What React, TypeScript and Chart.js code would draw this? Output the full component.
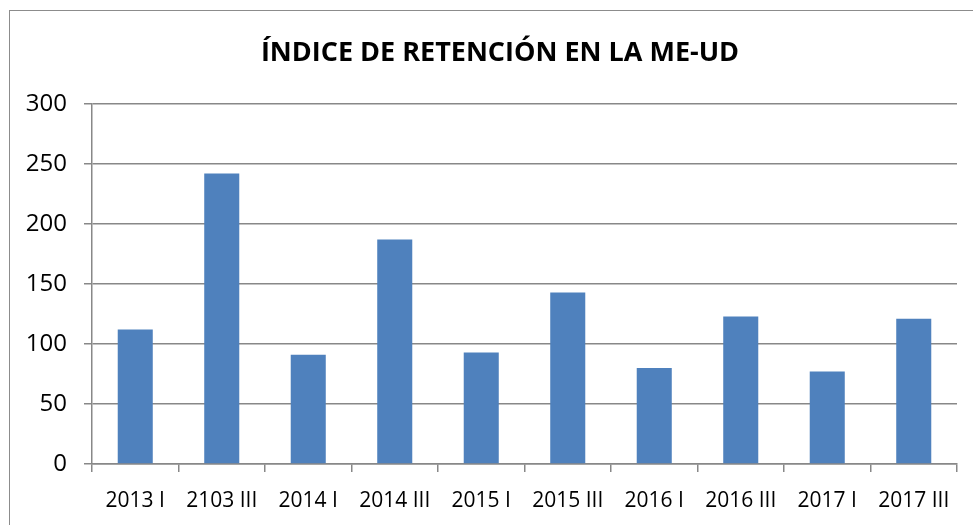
import React, { useEffect, useRef } from "react";
import { Chart, registerables } from "chart.js";

Chart.register(...registerables);

const TITLE = "ÍNDICE DE RETENCIÓN EN LA ME-UD";
const categories = [
  "2013 I",
  "2103 III",
  "2014 I",
  "2014 III",
  "2015 I",
  "2015 III",
  "2016 I",
  "2016 III",
  "2017 I",
  "2017 III",
];
const values = [112, 242, 91, 187, 93, 143, 80, 123, 77, 121];
const yMin = 0;
const yMax = 300;
const yStep = 50;

const FONT = "'Open Sans', 'Noto Sans', sans-serif";

const titlePlugin = {
  id: "customTitle",
  afterDraw(chart: any) {
    const ctx = chart.ctx;
    ctx.save();
    ctx.font = `bold 27px ${FONT}`;
    ctx.fillStyle = "#000";
    ctx.textAlign = "center";
    ctx.textBaseline = "alphabetic";
    ctx.fillText(TITLE, 500, 61);
    ctx.restore();
  },
};

export default function App() {
  const ref = useRef<HTMLCanvasElement | null>(null);

  useEffect(() => {
    if (!ref.current) return;
    const chart = new Chart(ref.current, {
      type: "bar",
      data: {
        labels: categories,
        datasets: [
          {
            data: values,
            backgroundColor: "#4F81BD",
            borderWidth: 0,
            barPercentage: 0.405,
            categoryPercentage: 1,
          },
        ],
      },
      plugins: [titlePlugin],
      options: {
        animation: false,
        responsive: false,
        maintainAspectRatio: false,
        layout: { padding: { top: 104, right: 16, bottom: 0, left: 0 } },
        plugins: {
          legend: { display: false },
          tooltip: { enabled: false },
          title: { display: false },
        },
        scales: {
          x: {
            offset: true,
            afterFit: (scale: any) => {
              scale.height = 61;
            },
            grid: {
              offset: true,
              drawOnChartArea: false,
              drawTicks: true,
              tickLength: 8,
              color: "#888",
              lineWidth: 1.5,
            },
            border: { display: true, color: "#888", width: 1.5 },
            ticks: {
              color: "#000",
              font: { family: FONT, size: 21 },
              padding: 16,
              maxRotation: 0,
              autoSkip: false,
            },
          },
          y: {
            min: yMin,
            max: yMax,
            afterFit: (scale: any) => {
              scale.width = 92;
            },
            grid: {
              drawTicks: true,
              tickLength: 8,
              color: "#888",
              lineWidth: 1.5,
            },
            border: { display: true, color: "#888", width: 1.5 },
            ticks: {
              stepSize: yStep,
              color: "#000",
              font: { family: FONT, size: 24 },
              padding: 17,
            },
          },
        },
      },
    });
    return () => chart.destroy();
  }, []);

  return (
    <div>
      <div
        style={{
          position: "fixed",
          left: 9,
          top: 10,
          width: 990,
          height: 540,
          border: "1.5px solid #8c8c8c",
          boxSizing: "border-box",
          background: "#fff",
        }}
      />
      <div style={{ position: "fixed", left: 0, top: 0, width: 973, height: 525 }}>
        <canvas ref={ref} width={973} height={525} style={{ width: 973, height: 525 }} />
      </div>
    </div>
  );
}
